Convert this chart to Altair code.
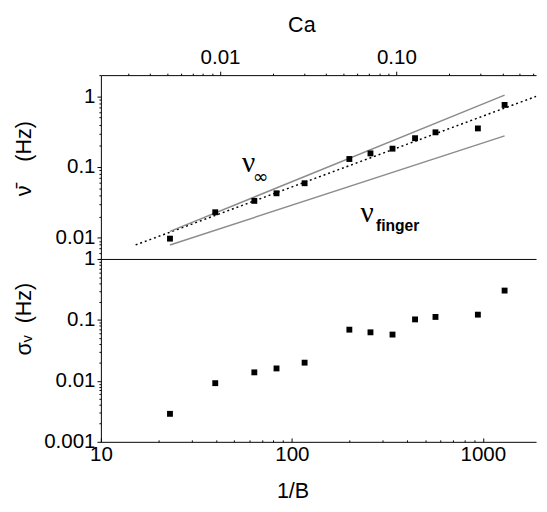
import altair as alt
import pandas as pd

# ---- data ----
inv_B = [23.0, 39.7, 63.6, 83.1, 116.6, 200.0, 258.0, 336.5, 441.6, 565.0, 942.0, 1300.0]
nu_mean = [0.0097, 0.0229, 0.0332, 0.0425, 0.059, 0.130, 0.156, 0.182, 0.256, 0.310, 0.352, 0.757]
sigma_nu = [0.00288, 0.00917, 0.0138, 0.0160, 0.0199, 0.0692, 0.0626, 0.0575, 0.102, 0.112, 0.122, 0.303]

fit_x = [15.2, 1900.0]
fit_y = [0.0079, 1.0]
nu_inf_x = [23.0, 1300.0]
nu_inf_y = [0.0123, 1.04]
nu_finger_x = [23.0, 1300.0]
nu_finger_y = [0.0079, 0.276]

ca_ticks = [0.002, 0.003, 0.004, 0.005, 0.006, 0.007, 0.008, 0.009, 0.01,
            0.02, 0.03, 0.04, 0.05, 0.06, 0.07, 0.08, 0.09, 0.1,
            0.2, 0.3, 0.4, 0.5, 0.6]
x_ticks = [10, 20, 30, 40, 50, 60, 70, 80, 90, 100,
           200, 300, 400, 500, 600, 700, 800, 900, 1000]
top_y_ticks = [0.005, 0.006, 0.007, 0.008, 0.009, 0.01,
               0.02, 0.03, 0.04, 0.05, 0.06, 0.07, 0.08, 0.09, 0.1,
               0.2, 0.3, 0.4, 0.5, 0.6, 0.7, 0.8, 0.9, 1, 2]
bot_y_ticks = [0.001, 0.002, 0.003, 0.004, 0.005, 0.006, 0.007, 0.008, 0.009, 0.01,
               0.02, 0.03, 0.04, 0.05, 0.06, 0.07, 0.08, 0.09, 0.1,
               0.2, 0.3, 0.4, 0.5, 0.6, 0.7, 0.8, 0.9, 1]

X_DOMAIN = [10, 1900]
CA_DOMAIN = [0.00211, 0.620]
TOP_Y_DOMAIN = [0.005, 2.0]
BOT_Y_DOMAIN = [0.001, 1.0]

W = 445
H_TOP = 188
H_BOT = 187

NB = "\u00a0"
MAJOR = "abs(log(datum.value)/LN10 - round(log(datum.value)/LN10)) < 1e-6"
TICK_SIZE = {"condition": {"test": MAJOR, "value": 4}, "value": 2}
TICK_IN = {"condition": {"test": MAJOR, "value": -4}, "value": -2}
LBL = MAJOR + " ? format(datum.value, '~g') : ''"
LBL_CA = MAJOR + " ? format(datum.value, '.2f') : ''"

pts = pd.DataFrame({"invB": inv_B, "nu": nu_mean, "sigma": sigma_nu})
fit = pd.DataFrame({"invB": fit_x, "nu": fit_y})
inf_line = pd.DataFrame({"invB": nu_inf_x, "nu": nu_inf_y})
fin_line = pd.DataFrame({"invB": nu_finger_x, "nu": nu_finger_y})

xs = alt.Scale(type="log", domain=X_DOMAIN, nice=False)
ys_top = alt.Scale(type="log", domain=TOP_Y_DOMAIN, nice=False)
ys_bot = alt.Scale(type="log", domain=BOT_Y_DOMAIN, nice=False)

x_top_hidden = alt.X("invB:Q", scale=xs,
                     axis=alt.Axis(orient="bottom", labels=False, ticks=False,
                                   domain=True, title=None))
y_top = alt.Y("nu:Q", scale=ys_top,
              axis=alt.Axis(values=top_y_ticks, labelExpr=LBL, tickSize=TICK_SIZE,
                            labelPadding=2, labelOverlap=False, labelFlush=False,
                            title="ν̄" + NB * 4 + "(Hz)", titleAngle=270, titleAlign="center",
                            titleBaseline="bottom", titleX=-67, titleY=85))
x_plain = alt.X("invB:Q", scale=xs)
y_plain = alt.Y("nu:Q", scale=ys_top)

fit_l = alt.Chart(fit).mark_line(color="black", strokeDash=[2, 3], strokeWidth=1.5).encode(
    x=x_top_hidden, y=y_top)
inf_l = alt.Chart(inf_line).mark_line(color="#8c8c8c", strokeWidth=1.5).encode(
    x=x_plain, y=y_plain)
fin_l = alt.Chart(fin_line).mark_line(color="#8c8c8c", strokeWidth=1.5).encode(
    x=x_plain, y=y_plain)
top_pts = alt.Chart(pts).mark_square(color="black", size=36, opacity=1).encode(
    x=x_plain, y=y_plain)

nu_lbl = pd.DataFrame({"invB": [59.3, 248.0], "nu": [0.115, 0.0224], "t": ["ν", "ν"]})
sub_lbl = pd.DataFrame({"invB": [68.5], "nu": [0.0730], "t": ["∞"]})
fin_lbl = pd.DataFrame({"invB": [358.0], "nu": [0.0148], "t": ["finger"]})

nu_text = alt.Chart(nu_lbl).mark_text(font="Liberation Serif", fontSize=30,
                                      baseline="middle", align="center").encode(
    x=x_plain, y=y_plain, text="t:N")
inf_text = alt.Chart(sub_lbl).mark_text(font="DejaVu Sans", fontSize=19,
                                        baseline="middle", align="center").encode(
    x=x_plain, y=y_plain, text="t:N")
fin_text = alt.Chart(fin_lbl).mark_text(font="Liberation Sans", fontSize=16, fontWeight="bold",
                                        baseline="middle", align="center").encode(
    x=x_plain, y=y_plain, text="t:N")

main_layers = alt.layer(fit_l, inf_l, fin_l, top_pts, nu_text, inf_text, fin_text)

ca_df = pd.DataFrame({"Ca": [0.01, 0.1]})
ca_axis = alt.Chart(ca_df).mark_rule(opacity=0).encode(
    x=alt.X("Ca:Q", scale=alt.Scale(type="log", domain=CA_DOMAIN, nice=False),
            axis=alt.Axis(orient="top", values=ca_ticks, labelExpr=LBL_CA,
                          tickSize=TICK_SIZE, labelPadding=4, labelOverlap=False,
                          labelFlush=False, title="Ca", titleX=205, titleY=-45,
                          titleBaseline="alphabetic", titleAlign="center")))

top = alt.layer(main_layers, ca_axis).resolve_scale(
    x="independent").properties(width=W, height=H_TOP)

bottom = alt.Chart(pts).mark_square(color="black", size=36, opacity=1).encode(
    x=alt.X("invB:Q", scale=xs,
            axis=alt.Axis(values=x_ticks, labelExpr=LBL, tickSize=TICK_IN,
                          labelPadding=6, labelOverlap=False, labelFlush=False,
                          title="1/B", titleX=196, titleY=57, titleBaseline="alphabetic",
                          titleAlign="center")),
    y=alt.Y("sigma:Q", scale=ys_bot,
            axis=alt.Axis(values=bot_y_ticks, labelExpr=LBL, tickSize=TICK_SIZE,
                          labelPadding=2, labelOverlap=False, labelFlush=False,
                          title="σᵥ" + NB * 2 + "(Hz)", titleAngle=270, titleAlign="center",
                          titleBaseline="bottom", titleX=-67, titleY=61)),
).properties(width=W, height=H_BOT)

chart = alt.vconcat(top, bottom, spacing=0, bounds="flush").properties(
    padding={"left": 5, "top": 0, "right": 0, "bottom": 0}
).configure_view(stroke=None).configure_axis(
    grid=False, domainColor="black", tickColor="black", labelColor="black",
    titleColor="black", labelFont="Liberation Sans", labelFontSize=21,
    titleFont="Liberation Sans", titleFontSize=22, titleFontWeight="normal",
    domainWidth=1, tickWidth=1
)

chart.save("out.html", embed_options={"renderer": "svg", "actions": False})
